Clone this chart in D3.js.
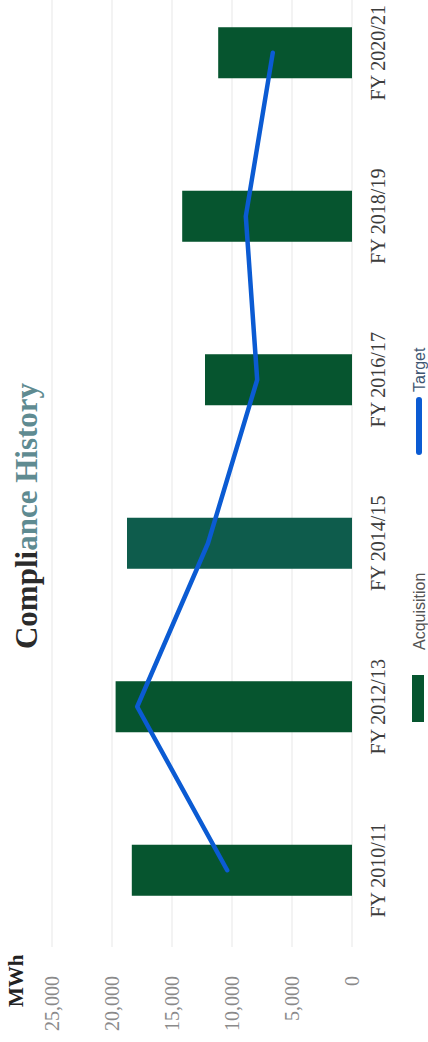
<!DOCTYPE html>
<html>
<head>
<meta charset="utf-8">
<script src="https://cdn.jsdelivr.net/npm/d3@7"></script>
<style>
	body { margin: 0; background: #fff; }
	svg { display: block; }
	.grid line { stroke: #efefef; stroke-width: 1.5; }
	.tickLabel { font-family: "Liberation Serif", serif; font-size: 20px; fill: #8a8a8a; }
	.catLabel { font-family: "Liberation Serif", serif; font-size: 20px; fill: #3c3c3c; }
	.legendText { font-family: "Liberation Sans", Arial, sans-serif; font-size: 16px; }
</style>
</head>
<body>
<svg id="chart" width="428" height="1042"></svg>
<script>
var categories = ["FY 2010/11", "FY 2012/13", "FY 2014/15", "FY 2016/17", "FY 2018/19", "FY 2020/21"];
var acquisition = [18350, 19700, 18750, 12250, 14150, 11150];
var target = [10400, 17900, 12000, 7900, 8850, 6600];
var yTicks = [0, 5000, 10000, 15000, 20000, 25000];

var barColour = "#06552f";
var lineColour = "#0b5bd3";

// chart is laid out as a normal 1042x428 chart, then turned on its side
var W = 1042, H = 428;

var svg = d3.select("#chart");
var g = svg.append("g").attr("transform", "translate(0," + W + ") rotate(-90)");

var x = d3
	.scaleBand()
	.domain(categories)
	.range([90, 1071])
	.paddingInner(0.688)
	.paddingOuter(0.344);

var y = d3.scaleLinear().domain([0, 25000]).range([352, 52]);

// faint gridlines
g.append("g")
	.classed("grid", true)
	.selectAll("line")
	.data(yTicks)
	.enter()
	.append("line")
	.attr("x1", 95)
	.attr("x2", W)
	.attr("y1", d => y(d))
	.attr("y2", d => y(d));

// value labels
g.selectAll(".tickLabel")
	.data(yTicks)
	.enter()
	.append("text")
	.classed("tickLabel", true)
	.attr("x", 66)
	.attr("y", d => y(d))
	.attr("dy", "0.35em")
	.attr("text-anchor", "end")
	.text(d => d3.format(",")(d));

// unit
g.append("text")
	.attr("x", 35)
	.attr("y", 23)
	.style("font-family", "'Liberation Serif', serif")
	.style("font-weight", "bold")
	.style("font-size", "21px")
	.style("fill", "#222")
	.text("MWh");

// title (scan has the second half washed out to a grey-teal)
var title = g
	.append("text")
	.attr("x", 526)
	.attr("y", 37)
	.attr("text-anchor", "middle")
	.style("font-family", "'Liberation Serif', serif")
	.style("font-weight", "bold")
	.style("font-size", "31px");
title.append("tspan").style("fill", "#2b2b2b").text("Compli");
title.append("tspan").style("fill", "#5f8b91").text("ance History");

// bars
g.selectAll(".bar")
	.data(categories)
	.enter()
	.append("rect")
	.classed("bar", true)
	.attr("x", d => x(d))
	.attr("width", x.bandwidth())
	.attr("y", (d, i) => y(acquisition[i]))
	.attr("height", (d, i) => y(0) - y(acquisition[i]))
	.style("fill", (d, i) => (i == 2 ? "#0e5c4c" : barColour));

// target line
var line = d3
	.line()
	.x((d, i) => x(categories[i]) + x.bandwidth() / 2)
	.y(d => y(d));

g.append("path")
	.datum(target)
	.attr("d", line)
	.style("fill", "none")
	.style("stroke", lineColour)
	.style("stroke-width", 4.5)
	.style("stroke-linejoin", "round")
	.style("stroke-linecap", "round");

// category labels
g.selectAll(".catLabel")
	.data(categories)
	.enter()
	.append("text")
	.classed("catLabel", true)
	.attr("x", d => x(d) + x.bandwidth() / 2)
	.attr("y", 385)
	.attr("text-anchor", "middle")
	.text(d => d);

// legend
var legend = g.append("g");
legend
	.append("rect")
	.attr("x", 320)
	.attr("y", 412)
	.attr("width", 47)
	.attr("height", 12)
	.style("fill", barColour);
legend
	.append("text")
	.classed("legendText", true)
	.attr("x", 392)
	.attr("y", 425)
	.style("fill", "#555")
	.text("Acquisition");
legend
	.append("line")
	.attr("x1", 590)
	.attr("x2", 642)
	.attr("y1", 419)
	.attr("y2", 419)
	.style("stroke", lineColour)
	.style("stroke-width", 6)
	.style("stroke-linecap", "round");
legend
	.append("text")
	.classed("legendText", true)
	.attr("x", 650)
	.attr("y", 425)
	.style("fill", "#3e5672")
	.text("Target");
</script>
</body>
</html>
